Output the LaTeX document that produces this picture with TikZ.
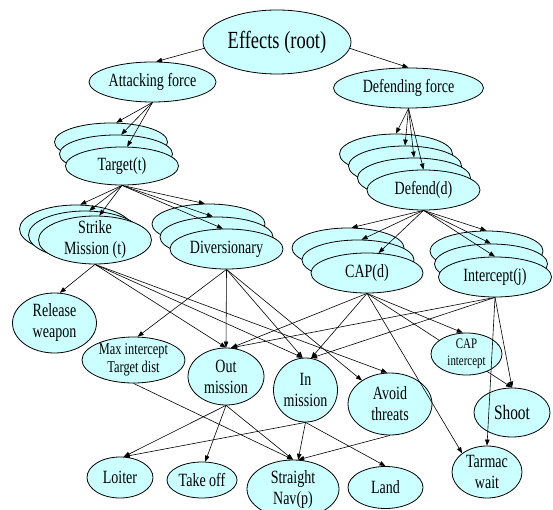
\documentclass[tikz,border=0pt]{standalone}
\usepackage{fontspec}
\setmainfont{Liberation Serif}[FakeStretch=0.75]
\usetikzlibrary{shapes.geometric,arrows.meta}
\pgfdeclarelayer{bg}
\pgfsetlayers{bg,main}
\definecolor{nodefill}{RGB}{204,255,255}
\tikzset{
  el/.style={ellipse, draw=black, line width=0.8pt, fill=nodefill, inner sep=0pt},
  lab/.style={align=center, inner sep=0pt, font=\fontsize{18.7}{21}\selectfont},
  edge/.style={-{Triangle[length=6pt,width=4.5pt]}, line width=0.6pt, draw=black},
}
\begin{document}
\begin{tikzpicture}[x=1pt,y=-1pt]
\useasboundingbox (0,0) rectangle (553,510);
\clip (0,0) rectangle (553,510);
% top level
\node[el, minimum width=148pt, minimum height=64pt, label={[lab,font=\fontsize{24.6}{28}\selectfont]center:Effects (root)}] (root) at (277,42) {};
\node[el, minimum width=127pt, minimum height=40pt, label={[lab]center:Attacking force}] (att) at (152.5,82) {};
\node[el, minimum width=150pt, minimum height=40pt, label={[lab]center:Defending force}] (dfn) at (408.5,88) {};
% Target stack
\node[el, minimum width=113pt, minimum height=38pt] (tgt1) at (111,142) {};
\node[el, minimum width=113pt, minimum height=38pt] (tgt2) at (116,154) {};
\node[el, minimum width=113pt, minimum height=38pt, label={[lab]center:Target(t)}] (tgt3) at (122,166) {};
% Defend stack
\node[el, minimum width=113pt, minimum height=40pt] (dfd1) at (396,154) {};
\node[el, minimum width=113pt, minimum height=40pt] (dfd2) at (405,166) {};
\node[el, minimum width=113pt, minimum height=40pt] (dfd3) at (414,178) {};
\node[el, minimum width=113pt, minimum height=40pt, label={[lab]center:Defend(d)}] (dfd4) at (423.5,190) {};
% Strike stack
\node[el, minimum width=113pt, minimum height=48pt] (str1) at (76,229) {};
\node[el, minimum width=113pt, minimum height=48pt] (str2) at (85,235) {};
\node[el, minimum width=113pt, minimum height=48pt, label={[lab]center:Strike\\Mission (t)}] (str3) at (95,240) {};
% Diversionary stack
\node[el, minimum width=113pt, minimum height=40pt] (div1) at (208.5,224) {};
\node[el, minimum width=113pt, minimum height=40pt] (div2) at (216.5,237) {};
\node[el, minimum width=113pt, minimum height=40pt, label={[lab]center:Diversionary}] (div3) at (226.5,249) {};
% CAP stack
\node[el, minimum width=112pt, minimum height=40pt] (cap1) at (348,248) {};
\node[el, minimum width=112pt, minimum height=40pt] (cap2) at (358,260) {};
\node[el, minimum width=112pt, minimum height=40pt, label={[lab]center:CAP(d)}] (cap3) at (367,273) {};
% Intercept stack
\node[el, minimum width=113pt, minimum height=40pt] (int1) at (486.5,251) {};
\node[el, minimum width=113pt, minimum height=40pt] (int2) at (491,264) {};
\node[el, minimum width=113pt, minimum height=40pt, label={[lab]center:Intercept(j)}] (int3) at (495,277) {};
% lower nodes
\node[el, minimum width=84pt, minimum height=60pt, label={[lab]center:Release\\weapon}] (rel) at (54.5,323) {};
\node[el, minimum width=103pt, minimum height=46pt, label={[lab,font=\fontsize{16.5}{18.5}\selectfont]center:Max intercept\\Target dist}] (maxi) at (133.5,360) {};
\node[el, minimum width=76pt, minimum height=57pt, label={[lab]center:Out\\mission}] (outm) at (226,376.5) {};
\node[el, minimum width=64pt, minimum height=64pt, label={[lab]center:In\\mission}] (inm) at (305.5,390) {};
\node[el, minimum width=84pt, minimum height=62pt, label={[lab]center:Avoid\\threats}] (avoid) at (390,404) {};
\node[el, minimum width=71pt, minimum height=42pt, label={[lab,font=\fontsize{14.5}{17}\selectfont]center:CAP\\intercept}] (capi) at (466.5,354) {};
\node[el, minimum width=76pt, minimum height=49pt, label={[lab,font=\fontsize{20.5}{23}\selectfont]center:Shoot}] (shoot) at (512,412.5) {};
\node[el, minimum width=70pt, minimum height=52pt, label={[lab]center:Tarmac\\wait}] (tarmac) at (487,472) {};
\node[el, minimum width=66pt, minimum height=41pt, label={[lab]center:Loiter}] (loiter) at (120,477.5) {};
\node[el, minimum width=70pt, minimum height=36pt, label={[lab]center:Take off}] (takeoff) at (202,480) {};
\node[el, minimum width=92pt, minimum height=58pt, label={[lab]center:Straight\\Nav(p)}] (nav) at (293,489) {};
\node[el, minimum width=75pt, minimum height=42pt, label={[lab]center:Land}] (land) at (385.5,487.5) {};
% hidden edge (behind nodes)
\begin{pgfonlayer}{bg}
\draw[edge] (cap3.south) -- (shoot.north);
\end{pgfonlayer}
% edges
\draw[edge] (root.185) -- (att.80);
\draw[edge] (root.-5) -- (dfn.north);
\draw[edge] (att.south) -- (tgt1.75);
\draw[edge] (att.south) -- (tgt2.75);
\draw[edge] (att.south) -- (tgt3.75);
\draw[edge] (dfn.south) -- (dfd1.north);
\draw[edge] (dfn.south) -- (dfd2.north);
\draw[edge] (dfn.south) -- (dfd3.north);
\draw[edge] (dfn.south) -- (dfd4.north);
\draw[edge] (tgt3.south) -- (str1.80);
\draw[edge] (tgt3.south) -- (str2.80);
\draw[edge] (tgt3.south) -- (str3.80);
\draw[edge] (tgt3.south) -- (div1.100);
\draw[edge] (tgt3.south) -- (div2.100);
\draw[edge] (tgt3.south) -- (div3.100);
\draw[edge] (dfd4.south) -- (cap1.80);
\draw[edge] (dfd4.south) -- (cap2.80);
\draw[edge] (dfd4.south) -- (cap3.60);
\draw[edge] (dfd4.south) -- (int1.north);
\draw[edge] (dfd4.south) -- (int2.north);
\draw[edge] (dfd4.south) -- (int3.north);
% strike
\draw[edge] (str3.south) -- (rel.80);
\draw[edge] (str3.south) -- (outm.north);
\draw[edge] (str3.south) -- (inm.95);
\draw[edge] (str3.south) -- (avoid.95);
% diversionary
\draw[edge] (div3.south) -- (maxi.80);
\draw[edge] (div3.south) -- (outm.north);
\draw[edge] (div3.south) -- (inm.95);
\draw[edge] (div3.south) -- (avoid.140);
% CAP
\draw[edge] (cap3.south) -- (outm.80);
\draw[edge] (cap3.south) -- (inm.80);
\draw[edge] (cap3.south) -- (capi.100);
\draw[edge] (cap3.south) -- (tarmac.143);
% Intercept
\draw[edge] (int3.south) -- (outm.80);
\draw[edge] (int3.south) -- (inm.80);
\draw[edge] (int3.south) -- (shoot.north);
\draw[edge] (int3.south) -- (tarmac.north);
% lower
\draw[edge] (maxi.south) -- (nav.north);
\draw[edge] (outm.south) -- (loiter.80);
\draw[edge] (outm.south) -- (takeoff.80);
\draw[edge] (outm.south) -- (nav.north);
\draw[edge] (inm.south) -- (loiter.80);
\draw[edge] (inm.south) -- (nav.80);
\draw[edge] (inm.south) -- (land.north);
\draw[edge] (avoid.south) -- (nav.80);
\end{tikzpicture}
\end{document}
